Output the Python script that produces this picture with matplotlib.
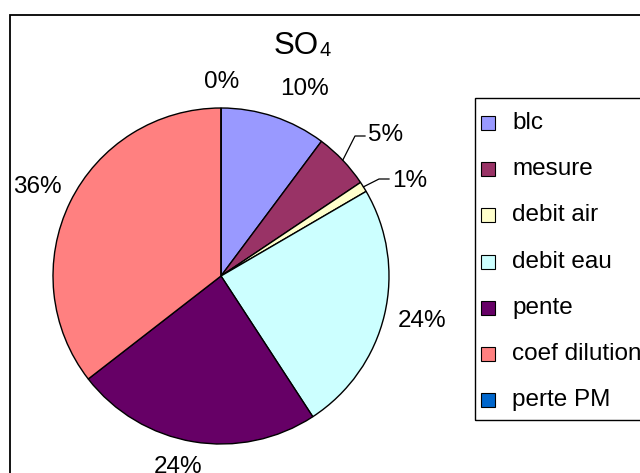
import numpy as np
import matplotlib
matplotlib.use("Agg")
import matplotlib.pyplot as plt
from matplotlib.patches import Rectangle

plt.rcParams['font.family'] = ['Liberation Sans', 'DejaVu Sans']

# ---- data ----
categories = ['blc', 'mesure', 'debit air', 'debit eau', 'pente', 'coef dilution', 'perte PM']
values = [10.2, 5.4, 1.0, 24.2, 23.7, 35.5, 0.0]
colors = ['#9999FF', '#993366', '#FFFFCC', '#CCFFFF', '#660066', '#FF8080', '#0066CC']
title_main = 'SO'
title_sub = '4'

W, H = 640, 473
fig = plt.figure(figsize=(W / 100, H / 100), dpi=100)
ax = fig.add_axes([0, 0, 1, 1])

cx, cy, R = 221, H - 276, 168
wedges, _ = ax.pie(values, colors=colors, startangle=90, counterclock=False,
                   radius=R, center=(cx, cy),
                   wedgeprops=dict(edgecolor='black', linewidth=1.0))
ax.set_xlim(0, W)
ax.set_ylim(0, H)
ax.set_aspect('equal')
ax.axis('off')

# percentage labels (pixel positions, y from top)
label_pos = [(304, 89), (386, 135), (410, 181), (422, 321), (178, 467), (37, 187), (222, 82)]
total = sum(values)
for v, (px, py) in zip(values, label_pos):
    ax.text(px, H - py, f"{100 * v / total:.0f}%", ha='center', va='center',
            fontsize=17.5, color='black')

# leader lines for small slices
cum = np.cumsum([0] + values)
leaders = {1: [(355, 136), (365, 136)], 2: [(379, 179), (389, 179)]}
for i, pts in leaders.items():
    mid = (cum[i] + cum[i + 1]) / 2 / total * 2 * np.pi
    sx, sy = cx + R * np.sin(mid), cy + R * np.cos(mid)
    xs = [sx] + [p[0] for p in pts]
    ys = [sy] + [H - p[1] for p in pts]
    ax.plot(xs, ys, color='black', lw=0.9, clip_on=False)

# title
ax.text(274, H - 54, title_main, ha='left', va='baseline', fontsize=22.5)
ax.text(320, H - 56, title_sub, ha='left', va='baseline', fontsize=14.5)

# legend (manual, Excel style)
ax.add_patch(Rectangle((475, H - 420), 250, 322, fill=False, edgecolor='black',
                       lw=1.0, clip_on=False))
for i, (cat, col) in enumerate(zip(categories, colors)):
    yc = H - (123 + i * 46.2)
    ax.add_patch(Rectangle((481, yc - 7), 14, 14, facecolor=col, edgecolor='black',
                           lw=0.8, clip_on=False))
    ax.text(512, yc, cat, ha='left', va='center', fontsize=17.5)

# chart border
ax.add_patch(Rectangle((10, -50), 700, H - 15 + 50, fill=False, edgecolor='black',
                       lw=1.3, clip_on=False))

fig.savefig('out.png', dpi=100)
